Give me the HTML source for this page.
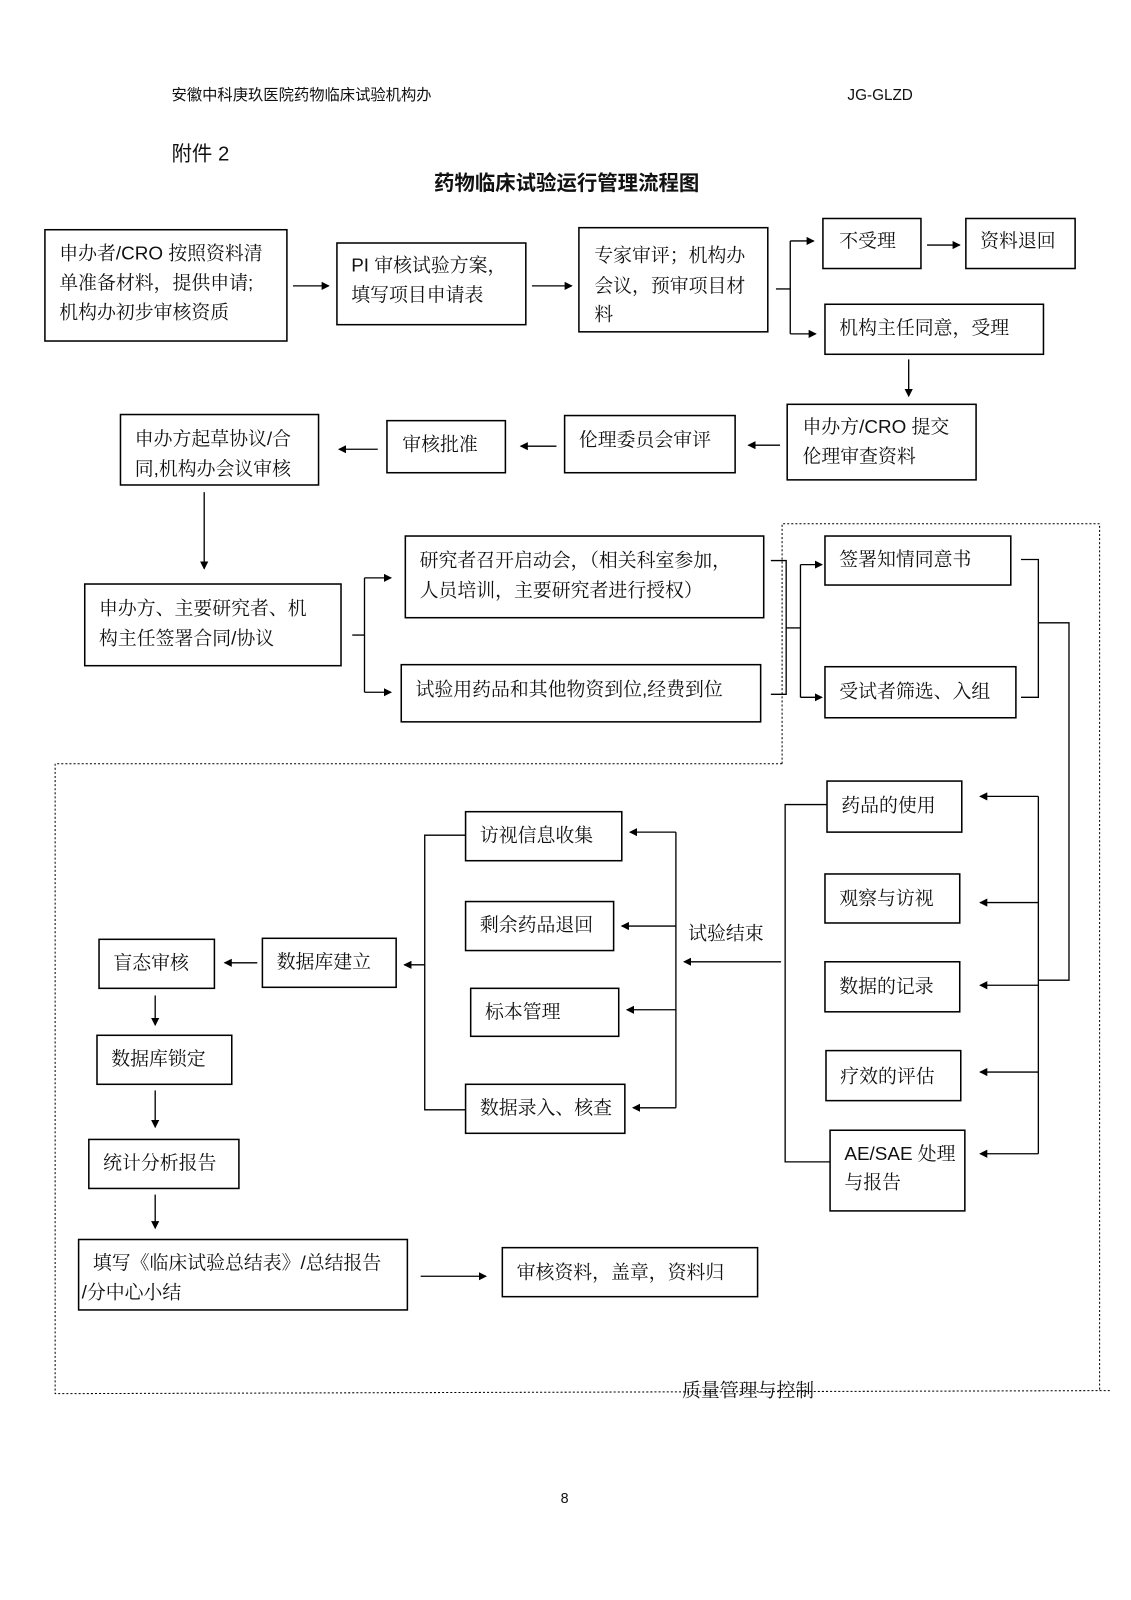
<!DOCTYPE html>
<html><head><meta charset="utf-8"><style>
html,body{margin:0;padding:0;background:#fff;}
svg{display:block;}
text{font-family:"Liberation Sans","Noto Serif CJK SC",serif;font-size:18.5px;fill:#111;}
.h{font-family:"Liberation Sans","Noto Sans CJK SC",sans-serif;font-size:15px;}
rect{fill:#fff;stroke:#000;stroke-width:1.5;}
line,polyline{stroke:#000;stroke-width:1.3;fill:none;}
</style></head><body>
<svg width="1131" height="1600" viewBox="0 0 1131 1600" xmlns="http://www.w3.org/2000/svg">
<defs><marker id="a" markerWidth="8" markerHeight="8" refX="7" refY="4" orient="auto" markerUnits="userSpaceOnUse"><path d="M0,0 L8,4 L0,8 z" fill="#000"/></marker></defs>
<g transform="scale(1.021)">
<text class="h" x="168" y="98">安徽中科庚玖医院药物临床试验机构办</text>
<text class="h" x="830" y="98">JG-GLZD</text>
<text x="168" y="157" style="font-size:20px;font-family:'Liberation Sans','Noto Sans CJK SC',sans-serif">附件 2</text>
<text x="555" y="186" text-anchor="middle" style="font-size:20px;font-weight:bold;font-family:'Liberation Sans','Noto Sans CJK SC',sans-serif">药物临床试验运行管理流程图</text>

<polyline points="766,748 766,513 1077,513 1077,1362" style="stroke-dasharray:2,2;stroke-width:1"/>
<polyline points="766,748 54,748 54,1365 1088,1362" style="stroke-dasharray:2,2;stroke-width:1"/>
<text x="668" y="1368">质量管理与控制</text>

<rect x="44" y="225" width="237" height="109"/>
<text x="58" y="254">申办者/CRO 按照资料清</text><text x="58" y="283">单准备材料，提供申请;</text><text x="58" y="312">机构办初步审核资质</text>
<line x1="287" y1="280" x2="322" y2="280" marker-end="url(#a)"/>
<rect x="330" y="238" width="185" height="80"/>
<text x="344" y="266">PI 审核试验方案，</text><text x="344" y="295">填写项目申请表</text>
<line x1="521" y1="280" x2="560" y2="280" marker-end="url(#a)"/>
<rect x="567" y="223" width="185" height="102"/>
<text x="582" y="256">专家审评；机构办</text><text x="582" y="286">会议，预审项目材</text><text x="582" y="314">料</text>
<line x1="760" y1="283" x2="774" y2="283"/>
<line x1="774" y1="236" x2="774" y2="327"/>
<line x1="774" y1="236" x2="797" y2="236" marker-end="url(#a)"/>
<line x1="774" y1="327" x2="799" y2="327" marker-end="url(#a)"/>
<rect x="806" y="214" width="96" height="49"/><text x="822" y="242">不受理</text>
<line x1="908" y1="240" x2="940" y2="240" marker-end="url(#a)"/>
<rect x="946" y="214" width="107" height="49"/><text x="960" y="242">资料退回</text>
<rect x="808" y="298" width="214" height="49"/><text x="822" y="327">机构主任同意，受理</text>
<line x1="890" y1="352" x2="890" y2="388" marker-end="url(#a)"/>
<rect x="771" y="396" width="185" height="74"/>
<text x="786" y="424">申办方/CRO 提交</text><text x="786" y="453">伦理审查资料</text>
<line x1="764" y1="436" x2="733" y2="436" marker-end="url(#a)"/>
<rect x="553" y="407" width="167" height="56"/><text x="567" y="437">伦理委员会审评</text>
<line x1="545" y1="437" x2="510" y2="437" marker-end="url(#a)"/>
<rect x="379" y="412" width="116" height="51"/><text x="394" y="441">审核批准</text>
<line x1="370" y1="440" x2="332" y2="440" marker-end="url(#a)"/>
<rect x="118" y="406" width="194" height="69"/>
<text x="132" y="436">申办方起草协议/合</text><text x="132" y="465">同,机构办会议审核</text>
<line x1="200" y1="482" x2="200" y2="557" marker-end="url(#a)"/>
<rect x="83" y="572" width="251" height="80"/>
<text x="97" y="602">申办方、主要研究者、机</text><text x="97" y="631">构主任签署合同/协议</text>
<line x1="345" y1="622" x2="357" y2="622"/>
<line x1="357" y1="566" x2="357" y2="678"/>
<line x1="357" y1="566" x2="383" y2="566" marker-end="url(#a)"/>
<line x1="357" y1="678" x2="383" y2="678" marker-end="url(#a)"/>
<rect x="397" y="525" width="351" height="80"/>
<text x="411" y="555">研究者召开启动会，（相关科室参加，</text><text x="411" y="584">人员培训，主要研究者进行授权）</text>
<rect x="393" y="651" width="352" height="56"/><text x="407" y="681">试验用药品和其他物资到位,经费到位</text>
<polyline points="755,549 770,549 770,680 755,680"/>
<line x1="770" y1="615" x2="784" y2="615"/>
<line x1="784" y1="553" x2="784" y2="683"/>
<line x1="784" y1="553" x2="805" y2="553" marker-end="url(#a)"/>
<line x1="784" y1="683" x2="805" y2="683" marker-end="url(#a)"/>
<rect x="808" y="525" width="182" height="48"/><text x="822" y="554">签署知情同意书</text>
<rect x="808" y="653" width="187" height="50"/><text x="822" y="683">受试者筛选、入组</text>
<polyline points="1000,548 1017,548 1017,683 1000,683"/>
<polyline points="1017,610 1047,610 1047,960 1017,960"/>
<line x1="1017" y1="780" x2="1017" y2="1130"/>
<line x1="1017" y1="780" x2="960" y2="780" marker-end="url(#a)"/>
<line x1="1017" y1="884" x2="960" y2="884" marker-end="url(#a)"/>
<line x1="1017" y1="965" x2="960" y2="965" marker-end="url(#a)"/>
<line x1="1017" y1="1050" x2="960" y2="1050" marker-end="url(#a)"/>
<line x1="1017" y1="1130" x2="960" y2="1130" marker-end="url(#a)"/>
<rect x="810" y="765" width="132" height="50"/><text x="824" y="795">药品的使用</text>
<rect x="808" y="856" width="132" height="48"/><text x="822" y="886">观察与访视</text>
<rect x="808" y="942" width="132" height="49"/><text x="822" y="972">数据的记录</text>
<rect x="809" y="1029" width="132" height="49"/><text x="823" y="1060">疗效的评估</text>
<rect x="813" y="1107" width="132" height="79"/><text x="827" y="1136">AE/SAE 处理</text><text x="827" y="1164">与报告</text>
<polyline points="810,788 769,788 769,1138 813,1138"/>
<line x1="765" y1="942" x2="670" y2="942" marker-end="url(#a)"/>
<text x="674" y="920">试验结束</text>
<line x1="662" y1="815" x2="662" y2="1085"/>
<line x1="662" y1="815" x2="617" y2="815" marker-end="url(#a)"/>
<line x1="662" y1="907" x2="609" y2="907" marker-end="url(#a)"/>
<line x1="662" y1="989" x2="614" y2="989" marker-end="url(#a)"/>
<line x1="662" y1="1085" x2="620" y2="1085" marker-end="url(#a)"/>
<rect x="456" y="795" width="153" height="48"/><text x="470" y="824">访视信息收集</text>
<rect x="456" y="883" width="145" height="48"/><text x="470" y="912">剩余药品退回</text>
<rect x="461" y="968" width="145" height="47"/><text x="475" y="997">标本管理</text>
<rect x="456" y="1062" width="156" height="48"/><text x="470" y="1091">数据录入、核查</text>
<polyline points="456,818 416,818 416,1087 456,1087"/>
<line x1="416" y1="945" x2="396" y2="945" marker-end="url(#a)"/>
<rect x="257" y="919" width="131" height="48"/><text x="271" y="948">数据库建立</text>
<line x1="252" y1="943" x2="220" y2="943" marker-end="url(#a)"/>
<rect x="97" y="920" width="113" height="48"/><text x="111" y="949">盲态审核</text>
<line x1="152" y1="975" x2="152" y2="1004" marker-end="url(#a)"/>
<rect x="95" y="1014" width="132" height="48"/><text x="109" y="1043">数据库锁定</text>
<line x1="152" y1="1068" x2="152" y2="1104" marker-end="url(#a)"/>
<rect x="87" y="1116" width="147" height="48"/><text x="101" y="1145">统计分析报告</text>
<line x1="152" y1="1170" x2="152" y2="1203" marker-end="url(#a)"/>
<rect x="77" y="1214" width="322" height="69"/>
<text x="91" y="1243">填写《临床试验总结表》/总结报告</text><text x="80" y="1272">/分中心小结</text>
<line x1="412" y1="1250" x2="476" y2="1250" marker-end="url(#a)"/>
<rect x="492" y="1222" width="250" height="48"/><text x="506" y="1252">审核资料，盖章，资料归</text>
<text class="h" x="553" y="1472" text-anchor="middle" style="font-size:14px">8</text>
</g>
</svg>
</body></html>
